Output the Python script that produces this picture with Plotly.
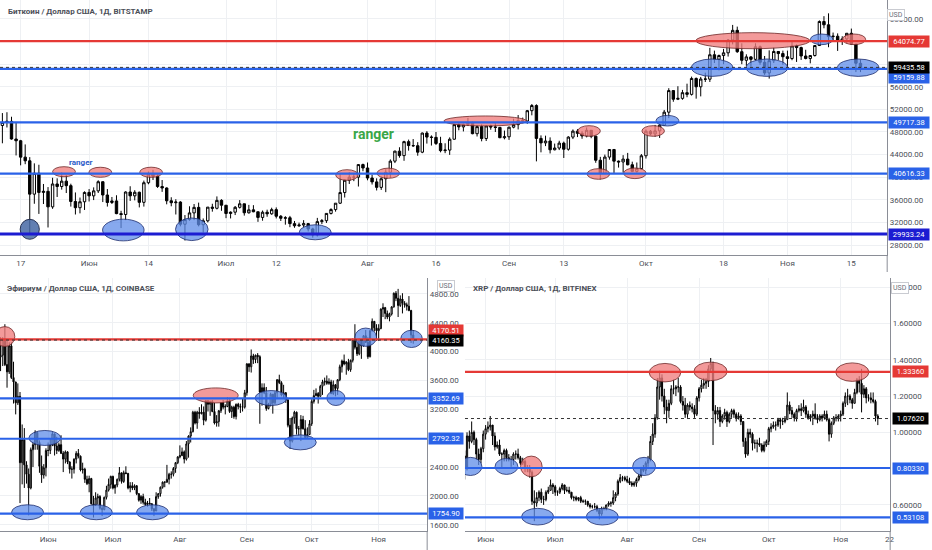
import pandas as pd
import plotly.graph_objects as go

# --- Bitcoin / USD, Bitstamp, daily, 12 May .. 17 Nov 2021
btc_first_open = 56700
btc_close = [49150, 49700, 49880, 46760, 46450, 43550, 42900, 37000, 40700, 37300, 37500, 34750, 38800, 38350, 39300, 38500, 35700, 34600, 35650, 37300,
             36700, 37580, 39200, 36850, 35520, 35800, 33550, 33400, 37380, 36700, 37330, 35550, 39020, 40520, 40150, 38350, 38090, 35820, 35480, 35600, 31680, 32500, 33680, 34660, 31590, 32280, 34700, 34500, 35900, 35040,
             33570, 33810, 34670, 35290, 33700, 34220, 33880, 32880, 33800, 33520, 34260, 33090, 32730, 32820, 31780, 31400, 31530, 31780, 30840, 29790, 32140, 32300, 33590, 34270, 35400, 37280, 39460, 40000, 40010, 42230, 41630,
             39850, 39170, 38200, 39720, 40870, 42840, 44610, 43820, 46290, 45600, 45570, 44430, 47810, 47100, 47050, 45970, 44700, 44800, 46720, 49300, 48900, 49300, 49550, 47700, 48950, 46840, 49070, 48900, 48810, 46990, 47150,
             48850, 49300, 50040, 49940, 51770, 52680, 46860, 46070, 46400, 44850, 45160, 46030, 44950, 47100, 48150, 47760, 47300, 48300, 47250, 43000, 40700, 43560, 44900, 42840, 42700, 43200, 42200, 41030, 41520, 43790,
             48140, 47660, 48200, 49200, 51510, 55330, 53800, 53950, 54960, 54660, 57470, 56000, 57370, 57350, 61670, 60880, 61530, 62010, 64280, 65990, 62210, 60690, 61290, 60860, 63080, 60330, 58450, 60620, 62250, 61880, 61320,
             61000, 63230, 62940, 61450, 61010, 61530, 63300, 67550, 66970, 64880, 64950, 64160, 64470, 65470, 63560, 60160, 59435.58]
btc_high = [58000, 51350, 51500, 50700, 49700, 46600, 45800, 43550, 42450, 42200, 38800, 38250, 39900, 39800, 40850, 40400, 38850, 37300, 36400, 37500,
            37900, 38200, 39450, 39250, 37900, 36500, 36800, 34050, 37500, 38400, 37700, 37450, 39400, 41000, 41300, 40500, 39500, 38200, 36450, 36100, 35750, 33300, 34850, 35250, 35500, 32700, 34700, 35300, 36600, 36100,
            35050, 33950, 34900, 35950, 35300, 35100, 35050, 33900, 34100, 34250, 34600, 34650, 33300, 33100, 33150, 32250, 31950, 32400, 31900, 31050, 32800, 32600, 33600, 34500, 35400, 40550, 39550, 40900, 40650, 42300, 42400,
            42600, 40450, 39800, 39950, 41400, 43150, 44700, 45300, 46450, 46650, 46750, 46200, 47900, 48150, 47400, 48000, 47150, 46000, 47050, 49350, 49750, 49500, 50500, 49850, 49200, 49350, 49150, 49300, 49600, 48900, 48250,
            48950, 50350, 51000, 50550, 51900, 52950, 52900, 47400, 47350, 47050, 45950, 46450, 46300, 47250, 48450, 48500, 48150, 48800, 48350, 47350, 43600, 44000, 44950, 45000, 42950, 43900, 44300, 42750, 42600, 44100,
            48450, 48350, 49250, 49500, 51900, 55750, 55350, 56100, 55450, 56550, 57800, 57650, 57750, 58500, 62900, 62400, 61700, 62700, 64450, 66950, 66650, 63700, 61750, 61450, 63700, 63300, 61450, 62450, 62950, 62300, 62400,
            62400, 64250, 63500, 63100, 62550, 61600, 63300, 67750, 68500, 69000, 65600, 65450, 64950, 65500, 66300, 63550, 60800]
btc_low = [48600, 46000, 48800, 46650, 43850, 42100, 42300, 30000, 35300, 33500, 35250, 31100, 34400, 36500, 37800, 37200, 34800, 33400, 33600, 34200,
           35700, 35950, 37200, 35600, 34800, 35250, 33450, 31000, 32400, 35800, 35900, 34650, 34800, 38750, 39500, 38100, 37400, 35200, 34850, 33400, 31300, 28800, 32300, 32400, 31300, 30200, 32000, 33900, 34300, 34050,
           32750, 32700, 33300, 34450, 33200, 33550, 33800, 32100, 32300, 33000, 33350, 32700, 32250, 31600, 31150, 31050, 31200, 31100, 30400, 29300, 29500, 31700, 31900, 33400, 33900, 35250, 36400, 38800, 39300, 38350, 41050,
           39450, 38700, 37650, 37750, 37350, 39900, 42500, 43450, 42900, 44700, 45350, 43800, 44250, 45950, 45600, 45700, 44400, 44250, 43950, 46650, 48300, 48100, 49050, 47600, 47200, 46350, 46400, 48400, 48000, 46900, 46700,
           46600, 48650, 48450, 49550, 49450, 50950, 42800, 44400, 45500, 44200, 44750, 44800, 43400, 44700, 46750, 47100, 46800, 47050, 46900, 42550, 39600, 40600, 43100, 40750, 41700, 40800, 42100, 40900, 40800, 41450,
           43300, 47450, 47150, 46950, 49100, 50450, 53350, 53650, 53700, 54150, 54450, 53900, 54300, 56850, 56850, 60200, 58900, 60000, 61350, 63500, 62000, 60000, 59700, 59550, 60650, 59900, 58100, 57450, 60200, 60750, 59900,
           59500, 60700, 60400, 60750, 60850, 60150, 61350, 63250, 66350, 63000, 64150, 62350, 63400, 63700, 63450, 58600, 58600]

# --- Ethereum / USD, Coinbase, daily, 10 May .. 17 Nov 2021
eth_first_open = 3925
eth_close = [3950, 4170, 3820, 3720, 4080, 3640, 3580, 3290, 3380, 2460, 2780, 2430, 2300, 2110, 2640, 2710, 2880, 2740, 2410, 2290, 2390, 2630,
             2630, 2710, 2860, 2690, 2630, 2710, 2590, 2510, 2610, 2470, 2370, 2370, 2510, 2590, 2550, 2360, 2370, 2230, 2170, 2240, 1890, 1870, 1970, 1990, 1830, 1810, 1980, 2080, 2160, 2270,
             2110, 2150, 2230, 2320, 2200, 2320, 2310, 2110, 2140, 2110, 2140, 2030, 1940, 1990, 1910, 1880, 1900, 1890, 1820, 1790, 1990, 2030, 2120, 2190, 2190, 2230, 2300, 2300, 2380, 2460, 2540,
             2560, 2610, 2510, 2720, 2830, 2890, 3160, 3010, 3160, 3140, 3160, 3050, 3320, 3270, 3310, 3170, 3010, 3030, 3180, 3290, 3230, 3240, 3320, 3170, 3230, 3100, 3270, 3240, 3230, 3230, 3430,
             3830, 3790, 3940, 3890, 3950, 3930, 3440, 3500, 3430, 3210, 3270, 3410, 3290, 3430, 3610, 3570, 3400, 3430, 3330, 2980, 2760, 3080, 3160, 2930, 2930, 3060, 2930, 2810, 2850, 3000,
             3310, 3390, 3420, 3380, 3520, 3580, 3590, 3560, 3580, 3420, 3540, 3490, 3610, 3790, 3870, 3830, 3850, 3750, 3880, 4170, 4060, 3970, 4170, 4080, 4220, 4130, 3930, 4290, 4420, 4330, 4290,
             4320, 4590, 4610, 4530, 4480, 4520, 4620, 4810, 4740, 4640, 4730, 4670, 4650, 4630, 4570, 4230, 4160.35]
eth_high = [4200, 4200, 4380, 4150, 4130, 4130, 3860, 3580, 3560, 3440, 2990, 2940, 2480, 2380, 2670, 2750, 2910, 2890, 2770, 2560, 2440, 2660,
            2740, 2800, 2890, 2860, 2820, 2740, 2840, 2620, 2630, 2620, 2480, 2410, 2520, 2620, 2650, 2560, 2460, 2390, 2280, 2280, 2250, 2000, 2050, 2030, 2010, 1860, 1990, 2140, 2240, 2280,
            2280, 2160, 2240, 2400, 2320, 2350, 2410, 2320, 2190, 2190, 2160, 2150, 2040, 2010, 2030, 1960, 1930, 1970, 1900, 1830, 2050, 2040, 2130, 2200, 2200, 2430, 2320, 2340, 2400, 2470, 2550,
            2700, 2670, 2630, 2760, 2840, 2950, 3180, 3180, 3180, 3230, 3270, 3240, 3330, 3330, 3320, 3330, 3290, 3120, 3190, 3300, 3330, 3270, 3370, 3360, 3250, 3250, 3280, 3290, 3280, 3350, 3470,
            3840, 3840, 4030, 3970, 3960, 3980, 3950, 3560, 3560, 3510, 3290, 3430, 3410, 3450, 3620, 3680, 3590, 3540, 3440, 3350, 3080, 3100, 3180, 3170, 2970, 3120, 3110, 3050, 2950, 3050,
            3340, 3470, 3490, 3440, 3540, 3610, 3640, 3670, 3630, 3610, 3600, 3550, 3620, 3820, 3890, 3960, 3870, 3900, 3890, 4180, 4380, 4170, 4180, 4170, 4230, 4300, 4200, 4300, 4460, 4420, 4380,
            4380, 4600, 4670, 4620, 4570, 4540, 4630, 4820, 4840, 4870, 4780, 4810, 4700, 4680, 4770, 4580, 4300]
eth_low = [3730, 3800, 3800, 3500, 3690, 3620, 3280, 3130, 3260, 1900, 2160, 2110, 2170, 1730, 2090, 2400, 2640, 2640, 2320, 2180, 2240, 2270,
           2550, 2580, 2690, 2560, 2580, 2610, 2580, 2330, 2450, 2440, 2310, 2240, 2310, 2450, 2520, 2340, 2310, 2180, 2150, 2050, 1880, 1700, 1860, 1880, 1810, 1720, 1800, 1950, 2060, 2100,
           2090, 2030, 2120, 2200, 2170, 2180, 2300, 2090, 2050, 2080, 2080, 2010, 1920, 1890, 1880, 1860, 1850, 1880, 1790, 1720, 1790, 1960, 1990, 2100, 2120, 2180, 2160, 2240, 2270, 2320, 2440,
           2520, 2550, 2450, 2490, 2530, 2740, 2880, 2990, 2930, 3070, 3130, 2980, 3030, 3170, 3110, 3160, 2990, 2960, 2960, 3150, 3200, 3130, 3230, 3150, 3080, 3070, 3060, 3200, 3150, 3170, 3210,
           3390, 3720, 3710, 3830, 3840, 3840, 3000, 3250, 3410, 3180, 3200, 3240, 3140, 3270, 3360, 3550, 3380, 3360, 3290, 2950, 2650, 2740, 3000, 2850, 2830, 2760, 2920, 2800, 2810, 2850,
           2970, 3280, 3380, 3280, 3380, 3400, 3530, 3540, 3540, 3410, 3400, 3380, 3400, 3590, 3710, 3810, 3680, 3730, 3720, 3850, 4030, 3940, 3950, 3900, 4070, 4120, 3900, 3920, 4280, 4280, 4150,
           4150, 4310, 4480, 4450, 4450, 4420, 4500, 4610, 4700, 4480, 4620, 4530, 4610, 4570, 4560, 4120, 4110]

# --- XRP / USD, Bitfinex, daily, 22 May .. 17 Nov 2021
xrp_first_open = 0.97
xrp_close = [0.87, 0.80, 0.98, 0.95, 1.00, 0.96, 0.88, 0.85, 0.91, 0.99,
             1.02, 1.03, 1.04, 0.98, 0.92, 0.93, 0.88, 0.88, 0.90, 0.86, 0.85, 0.85, 0.88, 0.88, 0.86, 0.83, 0.84, 0.80, 0.80, 0.78, 0.62, 0.61, 0.64, 0.67, 0.63, 0.63, 0.67, 0.68, 0.71, 0.70,
             0.67, 0.67, 0.69, 0.71, 0.68, 0.68, 0.67, 0.64, 0.64, 0.63, 0.64, 0.62, 0.62, 0.62, 0.60, 0.59, 0.59, 0.59, 0.57, 0.55, 0.58, 0.58, 0.60, 0.61, 0.61, 0.64, 0.66, 0.73, 0.75, 0.75, 0.74,
             0.73, 0.72, 0.71, 0.72, 0.74, 0.76, 0.80, 0.79, 0.83, 0.85, 0.95, 0.99, 1.08, 1.25, 1.30, 1.20, 1.14, 1.12, 1.16, 1.24, 1.24, 1.25, 1.25, 1.17, 1.15, 1.10, 1.15, 1.14, 1.13, 1.10, 1.19,
             1.24, 1.26, 1.27, 1.28, 1.35, 1.38, 1.12, 1.10, 1.12, 1.06, 1.09, 1.11, 1.06, 1.10, 1.12, 1.10, 1.08, 1.09, 1.06, 0.95, 0.88, 1.00, 0.99, 0.94, 0.94, 0.94, 0.93, 0.90, 0.93, 0.95,
             1.02, 1.03, 1.04, 1.04, 1.07, 1.06, 1.06, 1.07, 1.15, 1.12, 1.10, 1.08, 1.12, 1.13, 1.12, 1.14, 1.10, 1.08, 1.09, 1.10, 1.08, 1.07, 1.09, 1.08, 1.10, 1.07, 0.99, 1.05, 1.08, 1.08, 1.09,
             1.10, 1.16, 1.20, 1.20, 1.18, 1.16, 1.22, 1.29, 1.27, 1.21, 1.24, 1.19, 1.19, 1.18, 1.17, 1.09, 1.0762]
xrp_high = [1.00, 0.90, 1.00, 1.01, 1.06, 1.01, 0.97, 0.91, 0.92, 1.01,
            1.04, 1.06, 1.09, 1.04, 1.00, 0.95, 0.96, 0.89, 0.91, 0.91, 0.88, 0.87, 0.89, 0.90, 0.91, 0.87, 0.86, 0.85, 0.82, 0.82, 0.79, 0.68, 0.67, 0.68, 0.69, 0.65, 0.68, 0.70, 0.74, 0.72,
            0.71, 0.68, 0.70, 0.72, 0.71, 0.70, 0.70, 0.67, 0.65, 0.65, 0.64, 0.65, 0.63, 0.63, 0.62, 0.61, 0.60, 0.61, 0.60, 0.58, 0.59, 0.59, 0.60, 0.62, 0.62, 0.68, 0.67, 0.74, 0.77, 0.76, 0.76,
            0.76, 0.75, 0.73, 0.73, 0.75, 0.77, 0.81, 0.82, 0.84, 0.87, 0.98, 1.05, 1.10, 1.30, 1.34, 1.32, 1.24, 1.18, 1.18, 1.26, 1.29, 1.26, 1.30, 1.26, 1.20, 1.19, 1.16, 1.17, 1.16, 1.15, 1.20,
            1.25, 1.29, 1.30, 1.30, 1.37, 1.41, 1.39, 1.15, 1.14, 1.14, 1.10, 1.13, 1.12, 1.11, 1.13, 1.13, 1.11, 1.11, 1.10, 1.06, 0.97, 1.02, 1.02, 1.00, 0.96, 0.96, 0.97, 0.94, 0.95, 0.96,
            1.03, 1.05, 1.06, 1.06, 1.08, 1.08, 1.08, 1.09, 1.22, 1.17, 1.14, 1.11, 1.13, 1.15, 1.16, 1.18, 1.15, 1.12, 1.10, 1.12, 1.16, 1.10, 1.10, 1.10, 1.12, 1.12, 1.08, 1.06, 1.09, 1.10, 1.10,
            1.12, 1.17, 1.22, 1.24, 1.21, 1.19, 1.24, 1.30, 1.31, 1.35, 1.26, 1.25, 1.21, 1.22, 1.22, 1.18, 1.10]
xrp_low = [0.84, 0.74, 0.79, 0.91, 0.94, 0.93, 0.85, 0.82, 0.83, 0.89,
           0.96, 1.00, 1.01, 0.93, 0.90, 0.91, 0.87, 0.80, 0.84, 0.84, 0.84, 0.81, 0.82, 0.85, 0.85, 0.82, 0.82, 0.78, 0.78, 0.75, 0.60, 0.51, 0.59, 0.62, 0.61, 0.60, 0.62, 0.66, 0.68, 0.66,
           0.65, 0.65, 0.66, 0.68, 0.66, 0.67, 0.66, 0.63, 0.62, 0.62, 0.62, 0.61, 0.61, 0.60, 0.59, 0.58, 0.58, 0.58, 0.56, 0.52, 0.54, 0.57, 0.57, 0.59, 0.59, 0.60, 0.62, 0.65, 0.72, 0.73, 0.73,
           0.72, 0.71, 0.70, 0.70, 0.70, 0.73, 0.75, 0.78, 0.77, 0.81, 0.84, 0.93, 0.97, 1.07, 1.18, 1.17, 1.10, 1.05, 1.08, 1.15, 1.21, 1.20, 1.22, 1.16, 1.12, 1.08, 1.08, 1.12, 1.11, 1.08, 1.09,
           1.17, 1.22, 1.24, 1.24, 1.25, 1.33, 0.93, 1.05, 1.07, 1.03, 1.05, 1.07, 1.03, 1.05, 1.08, 1.08, 1.06, 1.07, 1.04, 0.92, 0.86, 0.87, 0.97, 0.90, 0.91, 0.89, 0.92, 0.89, 0.89, 0.92,
           0.93, 1.00, 1.02, 1.01, 1.03, 1.02, 1.04, 1.05, 1.07, 1.10, 1.08, 1.06, 1.06, 1.11, 1.09, 1.11, 1.08, 1.07, 1.06, 1.04, 1.07, 1.05, 1.06, 1.06, 1.07, 1.06, 0.95, 0.97, 1.04, 1.06, 1.06,
           1.06, 1.09, 1.14, 1.15, 1.16, 1.13, 1.16, 1.21, 1.22, 1.11, 1.19, 1.16, 1.17, 1.16, 1.16, 1.06, 1.04]

last_day = "2021-11-17"

# horizontal levels drawn on each chart
btc_levels = [(64074.77, "red"), (59159.88, "blue"), (49717.38, "blue"), (40616.33, "blue"), (29933.24, "navy")]
eth_levels = [(4170.51, "red"), (3352.69, "blue"), (2792.32, "blue"), (1754.90, "blue")]
xrp_levels = [(1.33360, "red"), (0.80330, "blue"), (0.53108, "blue")]
btc_last, eth_last, xrp_last = 59435.58, 4160.35, 1.07620

# ellipses: centre date, centre price, half width (days), half height (price), colour
btc_marks = [("2021-05-19 00:00", 30780, 2.1, 1770, "dark"),
             ("2021-05-26 12:00", 40970, 2.5, 890, "red"), ("2021-06-03 11:00", 40870, 2.5, 890, "red"),
             ("2021-06-14 14:00", 40870, 2.5, 900, "red"), ("2021-06-08 12:00", 30650, 4.55, 1920, "blue"),
             ("2021-06-23 12:00", 30780, 3.57, 2000, "blue"), ("2021-07-20 13:00", 30250, 3.5, 1330, "blue"),
             ("2021-07-27 12:00", 40390, 2.47, 940, "red"), ("2021-08-05 13:00", 40700, 2.47, 900, "red"),
             ("2021-08-26 19:00", 49950, 9.05, 885, "red"), ("2021-09-18 13:00", 48180, 2.47, 940, "red"),
             ("2021-09-20 14:00", 40570, 2.47, 940, "red"), ("2021-09-28 14:00", 40690, 2.47, 940, "red"),
             ("2021-10-02 14:00", 48180, 2.47, 940, "red"), ("2021-10-05 17:00", 50000, 2.5, 940, "blue"),
             ("2021-10-15 12:00", 59380, 4.55, 1540, "blue"), ("2021-10-24 10:00", 64160, 12.5, 1420, "red"),
             ("2021-10-27 12:00", 59380, 4.55, 1540, "blue"), ("2021-11-08 12:00", 64400, 2.47, 940, "blue"),
             ("2021-11-15 14:00", 64400, 2.55, 940, "red"), ("2021-11-16 12:00", 59380, 4.55, 1540, "blue")]
eth_marks = [("2021-05-12 00:00", 4209, 4.6, 138, "red"), ("2021-05-22 12:00", 1773, 7.4, 104, "blue"),
             ("2021-05-30 12:00", 2803, 7.4, 104, "blue"), ("2021-06-23 07:00", 1773, 7.4, 104, "blue"),
             ("2021-07-19 08:00", 1773, 7.4, 104, "blue"), ("2021-08-17 14:00", 3393, 10.4, 104, "red"),
             ("2021-09-12 05:00", 3357, 7.4, 104, "blue"), ("2021-09-25 17:00", 2742, 7.4, 104, "blue"),
             ("2021-10-12 05:00", 3357, 4.2, 104, "blue"), ("2021-10-26 00:00", 4200, 5.0, 127, "blue"),
             ("2021-11-16 05:00", 4177, 5.0, 120, "blue")]
xrp_marks = [("2021-05-25 12:00", 0.812, 4.9, 0.050, "blue"), ("2021-06-10 00:00", 0.812, 4.9, 0.044, "blue"),
             ("2021-06-20 17:00", 0.812, 4.65, 0.057, "red"), ("2021-06-23 10:00", 0.535, 6.9, 0.046, "blue"),
             ("2021-07-21 07:00", 0.535, 6.9, 0.046, "blue"), ("2021-08-08 07:00", 0.812, 4.9, 0.050, "blue"),
             ("2021-08-17 07:00", 1.329, 6.8, 0.051, "red"), ("2021-09-05 22:00", 1.336, 7.15, 0.051, "red"),
             ("2021-11-06 00:00", 1.332, 7.15, 0.051, "red")]

btc_ticks = ["2021-05-17", "2021-06-01", "2021-06-14", "2021-07-01", "2021-07-12", "2021-08-01", "2021-08-16",
             "2021-09-01", "2021-09-13", "2021-10-01", "2021-10-18", "2021-11-01", "2021-11-15"]
btc_ticktext = ["17", "Июн", "14", "Июл", "12", "Авг", "16", "Сен", "13", "Окт", "18", "Ноя", "15"]
month_ticks = ["2021-06-01", "2021-07-01", "2021-08-01", "2021-09-01", "2021-10-01", "2021-11-01"]
month_text = ["Июн", "Июл", "Авг", "Сен", "Окт", "Ноя"]

W, H = 932, 550
FONT = "Roboto"
GRID = "#eef0f3"
AXIS = "#8a8d96"
TXT = "#4c4f58"
LINE_C = {"red": "#e53935", "blue": "#2a62e8", "navy": "#1c1cd2"}
FILL_C = {"red": ("rgba(240,125,125,0.78)", "rgba(110,40,40,0.8)"),
          "blue": ("rgba(95,140,232,0.75)", "rgba(30,45,110,0.8)"),
          "dark": ("rgba(70,105,165,0.85)", "rgba(25,35,70,0.9)")}


def candles(first_open, close, high, low, xa, ya):
    days = pd.date_range(end=last_day, periods=len(close), freq="D")
    opens = [first_open] + close[:-1]
    return go.Candlestick(x=days, open=opens, high=high, low=low, close=close, xaxis=xa, yaxis=ya,
                          increasing=dict(fillcolor="white", line=dict(color="#000000", width=1)),
                          decreasing=dict(fillcolor="#000000", line=dict(color="#000000", width=1)),
                          whiskerwidth=0, showlegend=False, hoverinfo="skip")


fig = go.Figure([candles(btc_first_open, btc_close, btc_high, btc_low, "x", "y"),
                 candles(eth_first_open, eth_close, eth_high, eth_low, "x2", "y2"),
                 candles(xrp_first_open, xrp_close, xrp_high, xrp_low, "x3", "y3")])

shapes = []
annotations = []


def add_panel(levels, last, marks, xa, ya, label_x, label_w, fmt, shift):
    for d, p, hw, hh, kind in marks:
        c = pd.Timestamp(d)
        fill, edge = FILL_C[kind]
        shapes.append(dict(type="circle", xref=xa, yref=ya,
                           x0=c - pd.Timedelta(days=hw), x1=c + pd.Timedelta(days=hw),
                           y0=p - hh, y1=p + hh, fillcolor=fill, line=dict(color=edge, width=1)))
    for v, kind in levels:
        shapes.append(dict(type="line", xref=xa + " domain", yref=ya, x0=0, x1=1, y0=v, y1=v,
                           line=dict(color=LINE_C[kind], width=3 if kind == "navy" else 2.2)))
    shapes.append(dict(type="line", xref=xa + " domain", yref=ya, x0=0, x1=1, y0=last, y1=last,
                       line=dict(color="#333333", width=1, dash="dot")))
    labs = [(v, LINE_C[k], shift.get(v, 0)) for v, k in levels] + [(last, "#000000", shift.get(last, 0))]
    for v, col, ys in labs:
        annotations.append(dict(xref="paper", yref=ya, x=label_x / W, y=v, xanchor="left", yanchor="middle",
                                text=fmt % v, showarrow=False, bgcolor=col, width=label_w,
                                borderpad=1, yshift=ys, font=dict(family=FONT, size=7.5, color="white")))


add_panel(btc_levels, btc_last, btc_marks, "x", "y", 892, 38, "%.2f", {59159.88: -9})
add_panel(eth_levels, eth_last, eth_marks, "x2", "y2", 430, 32, "%.2f", {4170.51: 9})
add_panel(xrp_levels, xrp_last, xrp_marks, "x3", "y3", 896, 33, "%.5f", {})

titles = [("Биткоин / Доллар США, 1Д, BITSTAMP", 6, 11), ("Эфириум / Доллар США, 1Д, COINBASE", 5, 288),
          ("XRP / Доллар США, 1Д, BITFINEX", 473, 288)]
for t, x, y in titles:
    annotations.append(dict(xref="paper", yref="paper", x=x / W, y=1 - y / H, xanchor="left", yanchor="middle",
                            text="<b>" + t + "</b>", showarrow=False, font=dict(family=FONT, size=8, color=TXT)))
for x, y in [(909, 9), (448, 286), (913, 288)]:
    annotations.append(dict(xref="paper", yref="paper", x=x / W, y=1 - y / H, text="USD", showarrow=False,
                            bgcolor="white", bordercolor="#c9cbd1", borderwidth=1, borderpad=1,
                            font=dict(family=FONT, size=7, color="#6a6d78")))

annotations.append(dict(xref="x", yref="y", x="2021-08-02 10:00", y=47650, text="<b>ranger</b>", showarrow=False,
                        font=dict(family=FONT, size=14, color="#3aa648")))
annotations.append(dict(xref="x", yref="y", x="2021-05-30 05:00", y=42690, text="<b>ranger</b>", showarrow=False,
                        font=dict(family=FONT, size=8, color="#2b5cc8")))

# axis lines that run on past the plot areas
for x0, y0, x1, y1 in [(429, 531, 429, 550), (894, 531, 894, 550), (891, 255, 891, 272)]:
    shapes.append(dict(type="line", xref="paper", yref="paper", x0=x0 / W, x1=x1 / W,
                       y0=1 - y0 / H, y1=1 - y1 / H, line=dict(color=AXIS, width=1)))

tick_font = dict(family=FONT, size=8, color=TXT)


def xaxis(domain, anchor, rng, vals, text):
    return dict(domain=domain, anchor=anchor, type="date", range=rng, tickvals=vals, ticktext=text,
                showgrid=True, gridcolor=GRID, showline=True, linecolor=AXIS, ticks="", tickfont=tick_font,
                rangeslider=dict(visible=False), zeroline=False, fixedrange=True)


def yaxis(domain, anchor, rng, vals, fmt):
    return dict(domain=domain, anchor=anchor, side="right", range=rng, tickvals=vals, tickformat=fmt,
                showgrid=True, gridcolor=GRID, showline=True, linecolor=AXIS, ticks="", tickfont=tick_font,
                zeroline=False, fixedrange=True)


fig.update_layout(
    width=W, height=H, margin=dict(l=0, r=0, t=0, b=0),
    paper_bgcolor="white", plot_bgcolor="white", showlegend=False, boxgap=0.25,
    xaxis=xaxis([0, 891 / W], "y", ["2021-05-12 11:30", "2021-11-22 20:24"], btc_ticks, btc_ticktext),
    yaxis=yaxis([1 - 255 / H, 1], "x", [26230, 71360], list(range(28000, 68001, 4000)), ".2f"),
    xaxis2=xaxis([0, 429 / W], "y2", ["2021-05-09 17:45", "2021-11-23 10:30"], month_ticks, month_text),
    yaxis2=yaxis([1 - 531 / H, 1 - 278 / H], "x2", [1513, 5021], list(range(1600, 4801, 400)), ".2f"),
    xaxis3=xaxis([467 / W, 894 / W], "y3", ["2021-05-23 03:00", "2021-11-22 07:40"],
                 month_ticks + ["2021-11-22"], month_text + ["22"]),
    yaxis3=yaxis([1 - 531 / H, 1 - 278 / H], "x3", [0.456, 1.851], [0.6, 0.8, 1.0, 1.2, 1.4, 1.6, 1.8], ".5f"),
    shapes=shapes, annotations=annotations,
)

fig.write_html("out.html", config={"displayModeBar": False},
               post_script="document.body.style.margin='0';")
